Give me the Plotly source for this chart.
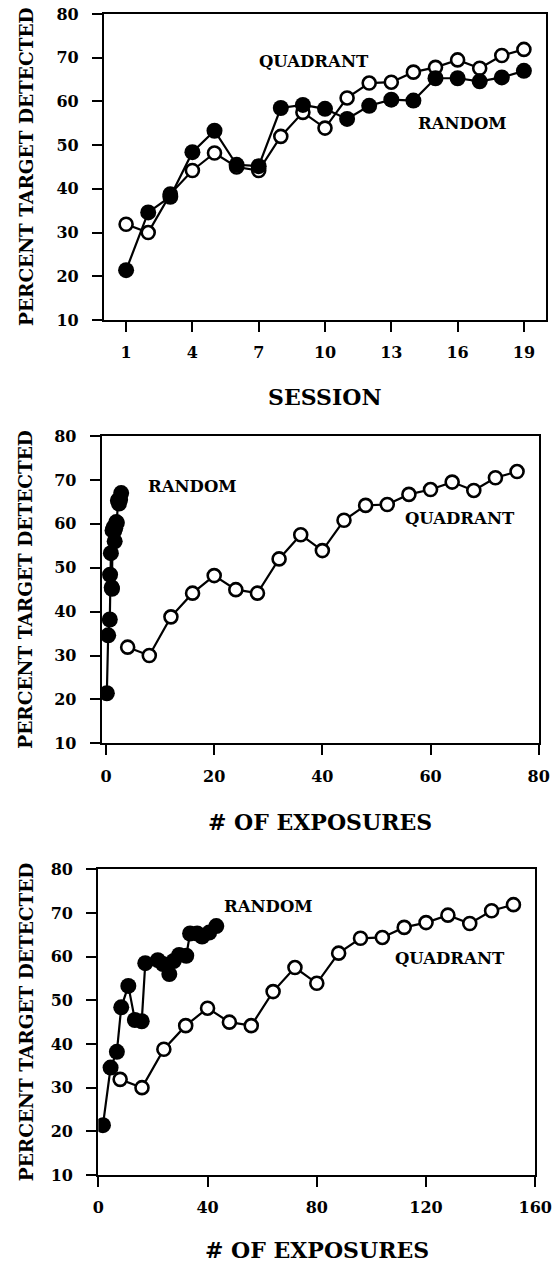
import plotly.graph_objects as go

# ---------------- data ----------------
sessions = list(range(1, 20))
random_pct = [21.4, 34.6, 38.2, 48.4, 53.3, 45.5, 45.2, 58.5, 59.2, 58.3,
              56.0, 59.0, 60.4, 60.2, 65.3, 65.3, 64.6, 65.5, 67.0]
quadrant_pct = [31.9, 30.0, 38.8, 44.2, 48.2, 45.0, 44.2, 52.0, 57.5, 53.9,
                60.8, 64.2, 64.4, 66.7, 67.8, 69.5, 67.6, 70.5, 71.9]

# panel 2: exposures (short scale)
random_exp_a = [0.15, 0.4, 0.7, 0.75, 0.9, 1.05, 1.1, 1.2, 1.4, 1.5,
                1.6, 1.7, 1.9, 2.0, 2.2, 2.3, 2.4, 2.6, 2.8]
quadrant_exp_a = [4, 8, 12, 16, 20, 24, 28, 32, 36, 40,
                  44, 48, 52, 56, 60, 64, 68, 72, 76]

# panel 3: exposures (long scale)
random_exp_b = [1.7, 4.5, 6.8, 8.4, 11.0, 13.4, 15.9, 17.2, 21.8, 23.7,
                26.0, 27.6, 29.6, 32.2, 33.6, 36.2, 38.0, 40.6, 43.2]
quadrant_exp_b = [8, 16, 24, 32, 40, 48, 56, 64, 72, 80,
                  88, 96, 104, 112, 120, 128, 136, 144, 152]

y_ticks = [10, 20, 30, 40, 50, 60, 70, 80]
x_ticks_top = [1, 4, 7, 10, 13, 16, 19]
x_ticks_mid = [0, 20, 40, 60, 80]
x_ticks_bot = [0, 40, 80, 120, 160]

# ---------------- layout helpers ----------------
W, H = 556, 1268
FONT = "DejaVu Serif"


def px(x):
    return x / W


def py(y):
    return 1 - y / H


panels = [
    # (x0, x1, y0(top), y1(bottom), xrange, xticks)
    (104, 546, 14, 320, [0, 20], x_ticks_top),
    (101.7, 538.7, 436, 743.3, [-0.8, 80], x_ticks_mid),
    (98.3, 535.3, 869.3, 1175, [0, 160], x_ticks_bot),
]

fig = go.Figure()

series = [
    (sessions, quadrant_pct, sessions, random_pct),
    (quadrant_exp_a, quadrant_pct, random_exp_a, random_pct),
    (quadrant_exp_b, quadrant_pct, random_exp_b, random_pct),
]

for i, (qx, qy, rx, ry) in enumerate(series):
    sfx = "" if i == 0 else str(i + 1)
    fig.add_trace(go.Scatter(
        x=qx, y=qy, mode="lines+markers", xaxis="x" + sfx, yaxis="y" + sfx,
        line=dict(color="black", width=2.2),
        marker=dict(symbol="circle", size=13, color="white",
                    line=dict(color="black", width=2.6)),
        showlegend=False, hoverinfo="skip"))
    fig.add_trace(go.Scatter(
        x=rx, y=ry, mode="lines+markers", xaxis="x" + sfx, yaxis="y" + sfx,
        line=dict(color="black", width=2.2),
        marker=dict(symbol="circle", size=16, color="black",
                    line=dict(width=0)),
        showlegend=False, hoverinfo="skip"))

layout = dict(
    width=W, height=H, autosize=False,
    margin=dict(l=0, r=0, t=0, b=0),
    paper_bgcolor="white", plot_bgcolor="white",
    showlegend=False,
)

tickfont = dict(family=FONT, size=16, color="black", weight="bold")
annotations = []

for i, (x0, x1, yt, yb, xr, xt) in enumerate(panels):
    sfx = "" if i == 0 else str(i + 1)
    layout["xaxis" + sfx] = dict(
        domain=[px(x0), px(x1)], range=xr, anchor="y" + sfx,
        tickmode="array", tickvals=xt, ticktext=[str(t) for t in xt],
        ticks="outside", ticklen=10, tickwidth=2.2, tickcolor="black",
        showline=True, linecolor="black", linewidth=2.2, mirror=True,
        showgrid=False, zeroline=False, tickfont=tickfont,
        ticklabelstandoff=7, automargin=False, fixedrange=True)
    layout["yaxis" + sfx] = dict(
        domain=[py(yb), py(yt)], range=[10, 80], anchor="x" + sfx,
        tickmode="array", tickvals=y_ticks, ticktext=[str(t) for t in y_ticks],
        ticks="outside", ticklen=10, tickwidth=2.2, tickcolor="black",
        showline=True, linecolor="black", linewidth=2.2, mirror=True,
        showgrid=False, zeroline=False, tickfont=tickfont,
        ticklabelstandoff=10, automargin=False, fixedrange=True)
    # y-axis title
    annotations.append(dict(
        text="PERCENT TARGET DETECTED", textangle=-90,
        x=px(26), y=py((yt + yb) / 2), xref="paper", yref="paper",
        xanchor="center", yanchor="middle", showarrow=False,
        font=dict(family=FONT, size=18.5, color="black", weight="bold")))

# x-axis titles
annotations.append(dict(text="SESSION", x=px(325), y=py(397), xref="paper", yref="paper",
                        xanchor="center", yanchor="middle", showarrow=False,
                        font=dict(family=FONT, size=22, color="black", weight="bold")))
annotations.append(dict(text="# OF EXPOSURES", x=px(320), y=py(822), xref="paper", yref="paper",
                        xanchor="center", yanchor="middle", showarrow=False,
                        font=dict(family=FONT, size=22, color="black", weight="bold")))
annotations.append(dict(text="# OF EXPOSURES", x=px(317), y=py(1250), xref="paper", yref="paper",
                        xanchor="center", yanchor="middle", showarrow=False,
                        font=dict(family=FONT, size=22, color="black", weight="bold")))

# series labels
lab_font = dict(family=FONT, size=16.5, color="black", weight="bold")
for text, cx, cy in [("QUADRANT", 314, 61), ("RANDOM", 462, 123.5),
                     ("RANDOM", 192.5, 486.5), ("QUADRANT", 460, 518.5),
                     ("RANDOM", 268.7, 906), ("QUADRANT", 449.5, 958)]:
    annotations.append(dict(text=text, x=px(cx), y=py(cy), xref="paper", yref="paper",
                            xanchor="center", yanchor="middle", showarrow=False,
                            font=lab_font))

layout["annotations"] = annotations
fig.update_layout(**layout)

fig.write_html("out.html")
